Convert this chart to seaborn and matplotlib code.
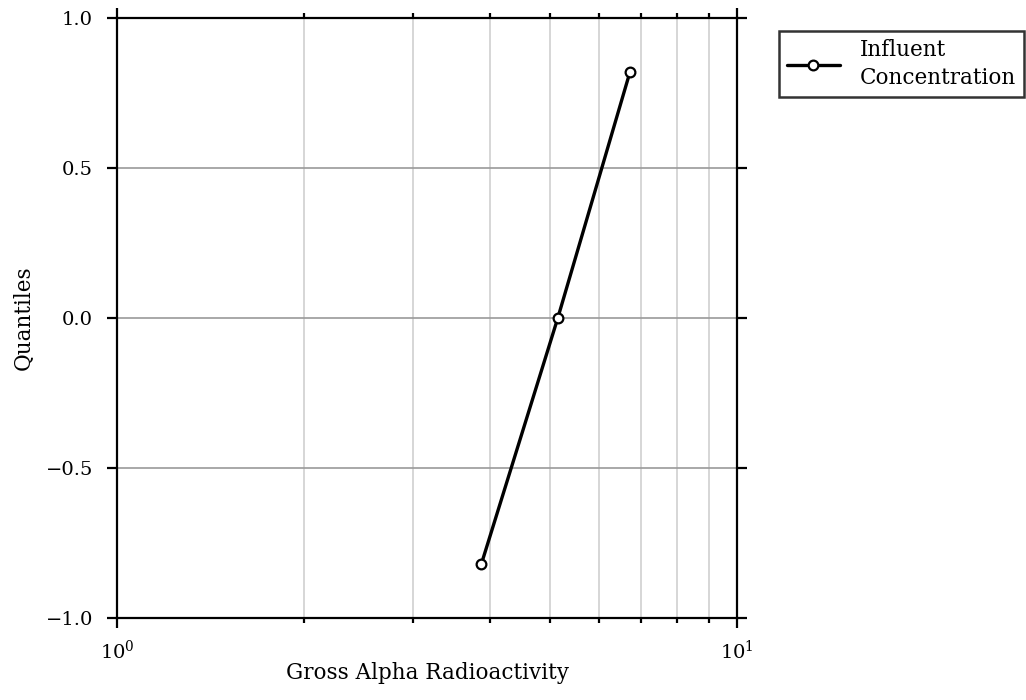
import matplotlib
matplotlib.use("Agg")
import matplotlib.pyplot as plt
import seaborn as sns
import pandas as pd
import numpy as np
from matplotlib.ticker import LogLocator, NullFormatter

# data
concentration = [3.87, 5.14, 6.72]
quantiles = [-0.82, 0.0, 0.82]
series_label = "Influent\nConcentration"
y_ticks = [-1.0, -0.5, 0.0, 0.5, 1.0]
y_tick_labels = ["\u22121.0", "\u22120.5", "0.0", "0.5", "1.0"]

sns.set_theme(style="white")
plt.rcParams['font.family'] = ['DejaVu Serif']
plt.rcParams['mathtext.fontset'] = 'dejavuserif'

df = pd.DataFrame({"x": concentration, "y": quantiles, "s": series_label})

fig = plt.figure(figsize=(10.26, 7.0), dpi=100)
ax = fig.add_axes([117 / 1026, 1 - 618 / 700, 620 / 1026, 600 / 700])

sns.lineplot(data=df, x="x", y="y", hue="s", palette=["black"], marker="o",
             markersize=7, markerfacecolor="white", markeredgecolor="black",
             markeredgewidth=1.6, linewidth=2.4, ax=ax, sort=False, legend=True)

ax.set_xscale("log")
ax.set_xlim(1, 10)
ax.set_ylim(-1, 1)
ax.set_yticks(y_ticks)
ax.set_yticklabels(y_tick_labels)
ax.xaxis.set_minor_locator(LogLocator(base=10, subs=np.arange(2, 10)))
ax.xaxis.set_minor_formatter(NullFormatter())

ax.grid(True, which="major", axis="y", color="#9a9a9a", linewidth=1.2)
ax.grid(True, which="both", axis="x", color="#cfcfcf", linewidth=1.2)

for sp in ax.spines.values():
    sp.set_color("black")
    sp.set_linewidth(1.6)

ax.tick_params(axis="both", which="both", direction="out", top=True, right=True,
               bottom=True, left=True, color="black", labelsize=14, labelcolor="black")
ax.tick_params(which="major", length=7.2, width=1.6)
ax.tick_params(which="minor", length=3.6, width=1.6)
ax.tick_params(axis="x", which="major", pad=8)
ax.tick_params(axis="y", which="major", pad=10)

ax.set_xlabel("Gross Alpha Radioactivity", fontsize=15.5, color="black")
ax.set_ylabel("Quantiles", fontsize=15.5, color="black")
ax.xaxis.set_label_coords(0.5, (618 - 662) / 600)
ax.yaxis.set_label_coords((35 - 117) / 620, 0.5)

leg = ax.legend(loc="upper left", bbox_to_anchor=(779 / 1026, 1 - 31 / 700),
                bbox_transform=fig.transFigure, borderaxespad=0, frameon=True,
                fancybox=False, edgecolor="black", fontsize=15.5, handlelength=2.5,
                handletextpad=0.9, borderpad=0.35, title=None)
leg.get_frame().set_linewidth(1.8)
for t in leg.get_texts():
    t.set_linespacing(1.4)
    t.set_color("black")

fig.savefig("out.png", dpi=100)
